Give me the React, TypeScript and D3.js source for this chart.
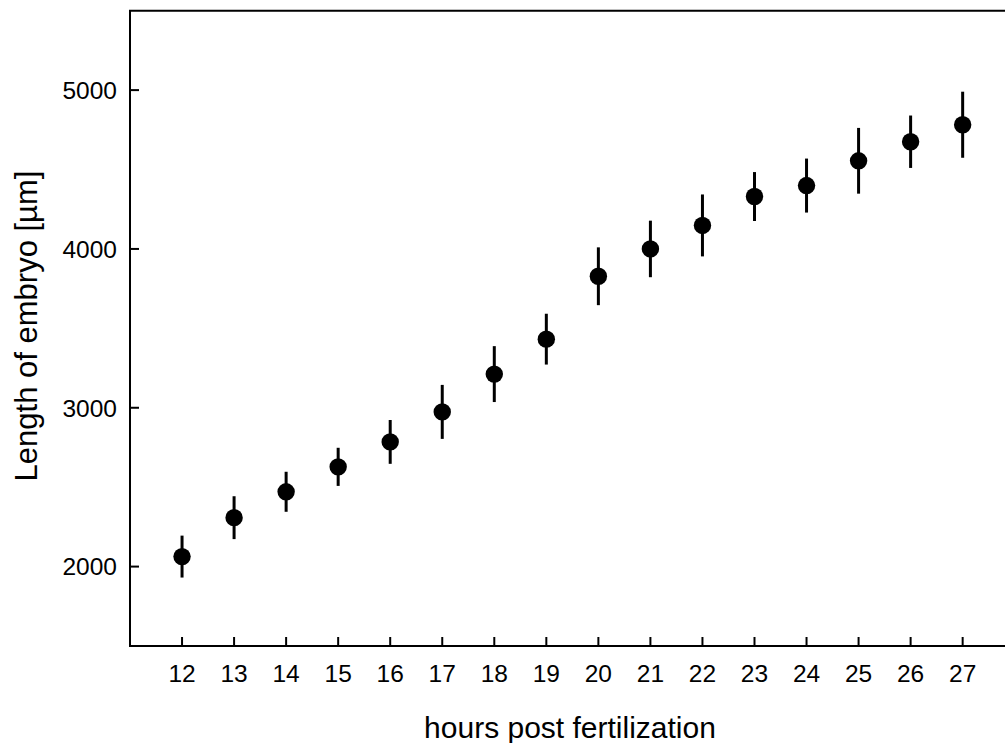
import React from "react";
import * as d3 from "d3";

const hours = [12, 13, 14, 15, 16, 17, 18, 19, 20, 21, 22, 23, 24, 25, 26, 27];
const lengths = [2063, 2308, 2471, 2628, 2785, 2974, 3212, 3432, 3828, 4000, 4148, 4330, 4399, 4555, 4675, 4782];
const errors = [132, 135, 126, 120, 138, 170, 176, 160, 182, 178, 195, 154, 170, 207, 165, 208];
const yTicks = [2000, 3000, 4000, 5000];
const xTicks = hours;

const W = 1005;
const H = 743;
const FONT = "'Liberation Sans', Arial, Helvetica, sans-serif";

export default function App() {
  const x = d3.scaleLinear().domain([11, 28]).range([130, 1014.7]);
  const y = d3.scaleLinear().domain([1500, 5500]).range([646, 10.7]);
  const [x0, x1] = x.range();
  const [yb, yt] = y.range();

  return (
    <svg
      width={W}
      height={H}
      viewBox={`0 0 ${W} ${H}`}
      style={{ position: "absolute", left: 0, top: 0, background: "#fff" }}
    >
      <rect x={0} y={0} width={W} height={H} fill="#fff" />
      {/* frame */}
      <path
        d={`M${x0},${yb} L${x0},${yt} L${x1},${yt} L${x1},${yb} Z`}
        fill="none"
        stroke="#000"
        strokeWidth={2}
      />
      {/* y ticks */}
      {yTicks.map((t) => (
        <g key={"y" + t}>
          <line x1={x0} x2={x0 + 9} y1={y(t)} y2={y(t)} stroke="#000" strokeWidth={2} />
          <text
            x={x0 - 13}
            y={y(t)}
            dy="0.36em"
            textAnchor="end"
            fontFamily={FONT}
            fontSize={24.5}
            fill="#000"
          >
            {t}
          </text>
        </g>
      ))}
      {/* x ticks */}
      {xTicks.map((t) => (
        <g key={"x" + t}>
          <line x1={x(t)} x2={x(t)} y1={yb} y2={yb - 9} stroke="#000" strokeWidth={2} />
          <text
            x={x(t)}
            y={682}
            textAnchor="middle"
            fontFamily={FONT}
            fontSize={24.5}
            fill="#000"
          >
            {t}
          </text>
        </g>
      ))}
      {/* data */}
      {hours.map((h, i) => (
        <g key={"p" + h}>
          <line
            x1={x(h)}
            x2={x(h)}
            y1={y(lengths[i] + errors[i])}
            y2={y(lengths[i] - errors[i])}
            stroke="#000"
            strokeWidth={3}
          />
          <circle cx={x(h)} cy={y(lengths[i])} r={8.7} fill="#000" />
        </g>
      ))}
      {/* axis titles */}
      <text
        x={570}
        y={738}
        textAnchor="middle"
        fontFamily={FONT}
        fontSize={30}
        fill="#000"
      >
        hours post fertilization
      </text>
      <text
        transform={`translate(37,326) rotate(-90)`}
        textAnchor="middle"
        fontFamily={FONT}
        fontSize={31}
        fill="#000"
      >
        Length of embryo [µm]
      </text>
    </svg>
  );
}
